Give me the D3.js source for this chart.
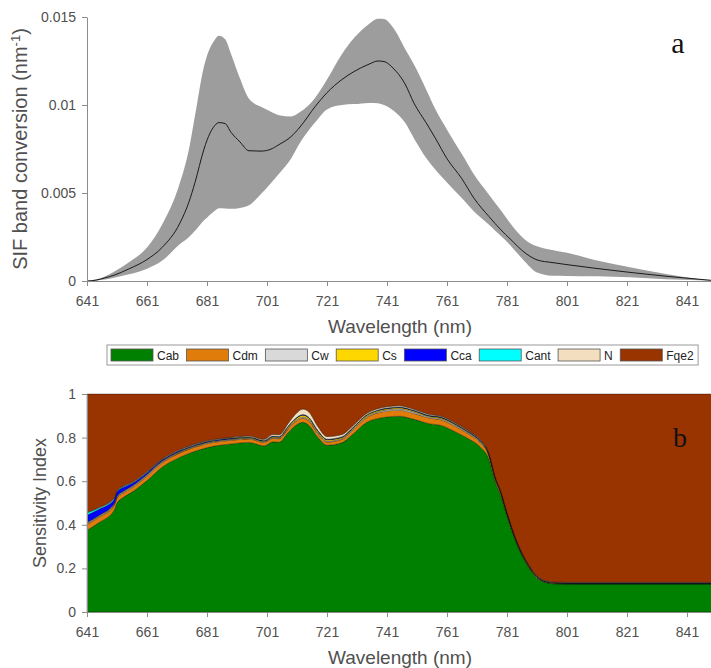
<!DOCTYPE html>
<html>
<head>
<meta charset="utf-8">
<script src="https://cdn.jsdelivr.net/npm/d3@7"></script>
<style>
  html, body { margin: 0; padding: 0; background: #fff; }
  svg { display: block; font-family: "Liberation Sans", Arial, sans-serif; }
</style>
</head>
<body>
<svg id="chart" width="711" height="668"></svg>
<script>
// ---------- Panel a: SIF band conversion (mean and spread) ----------
const sifWavelength = [641, 644, 647, 650, 655, 661, 666, 672, 675, 677, 680, 681, 683, 685, 687, 689, 692, 695, 699, 702, 705, 709, 712, 717, 721, 726, 730, 735, 738, 740, 743, 747, 750, 754, 757, 761, 766, 770, 775, 779, 782, 787, 791, 796, 801, 811, 822, 834, 845, 849];
const sifMean = [0, 0.00005, 0.00018, 0.00033, 0.00069, 0.00122, 0.0019, 0.0033, 0.0045, 0.0056, 0.0075, 0.0080, 0.0087, 0.0090, 0.00895, 0.00845, 0.0079, 0.0074, 0.00738, 0.00747, 0.00775, 0.0082, 0.00875, 0.0099, 0.0107, 0.01145, 0.0119, 0.01232, 0.0125, 0.01247, 0.0121, 0.0112, 0.0101, 0.0090, 0.00815, 0.00695, 0.0058, 0.0047, 0.00366, 0.0029, 0.0024, 0.0016, 0.0012, 0.00105, 0.00093, 0.00071, 0.00049, 0.00027, 0.0001, 0.00004];
const sifUpper = [0, 0.00008, 0.00025, 0.00052, 0.00107, 0.0019, 0.0032, 0.0056, 0.0075, 0.0094, 0.0122, 0.0128, 0.01355, 0.01394, 0.01375, 0.0129, 0.0115, 0.01035, 0.0099, 0.00965, 0.00942, 0.00935, 0.0096, 0.0104, 0.01145, 0.0129, 0.0138, 0.0146, 0.0149, 0.01488, 0.0144, 0.0132, 0.0123, 0.0109, 0.0098, 0.0086, 0.0072, 0.00605, 0.0049, 0.0040, 0.0033, 0.00235, 0.00197, 0.00176, 0.0016, 0.00116, 0.00078, 0.0004, 0.00012, 0.00004];
const sifLower = [0, 0.00002, 0.00008, 0.00018, 0.00038, 0.0007, 0.00115, 0.0021, 0.0025, 0.00285, 0.00345, 0.0036, 0.0039, 0.00413, 0.00412, 0.0041, 0.00415, 0.0043, 0.00495, 0.0055, 0.0061, 0.00695, 0.00785, 0.0090, 0.00975, 0.0100, 0.01005, 0.01012, 0.0101, 0.0100, 0.0097, 0.0090, 0.0081, 0.0070, 0.00635, 0.0056, 0.0047, 0.00395, 0.0032, 0.00255, 0.00205, 0.0011, 0.00048, 0.0003, 0.00029, 0.00027, 0.00021, 0.0001, 0.00004, 0.00002];
const sifTicks = [0, 0.005, 0.01, 0.015];
const sifTickLabels = ["0", "0.005", "0.01", "0.015"];

// ---------- Panel b: sensitivity index per parameter (stacked) ----------
const siWavelength = [641, 645, 650, 651, 653, 656, 661, 666, 672, 678, 683, 689, 695, 700, 703, 705, 708, 710, 713, 715, 718, 721, 726, 729, 734, 738, 745, 750, 755, 759, 764, 768, 772, 775, 777, 779, 781, 784, 788, 791, 794, 797, 801, 821, 850];
const siCab  = [0.375, 0.410, 0.466, 0.500, 0.525, 0.550, 0.603, 0.664, 0.710, 0.742, 0.760, 0.771, 0.778, 0.762, 0.781, 0.779, 0.822, 0.850, 0.870, 0.856, 0.800, 0.765, 0.777, 0.808, 0.868, 0.888, 0.898, 0.884, 0.864, 0.856, 0.825, 0.796, 0.758, 0.700, 0.600, 0.530, 0.440, 0.320, 0.210, 0.155, 0.135, 0.129, 0.128, 0.128, 0.128];
const siCdm  = [0.027, 0.025, 0.022, 0.022, 0.020, 0.020, 0.020, 0.020, 0.020, 0.019, 0.018, 0.017, 0.016, 0.016, 0.016, 0.016, 0.017, 0.018, 0.020, 0.020, 0.017, 0.015, 0.015, 0.018, 0.022, 0.026, 0.028, 0.027, 0.026, 0.026, 0.025, 0.022, 0.020, 0.016, 0.012, 0.010, 0.008, 0.006, 0.004, 0.003, 0.002, 0.002, 0.002, 0.002, 0.002];
const siCw   = [0.004, 0.004, 0.004, 0.004, 0.004, 0.004, 0.004, 0.004, 0.003, 0.003, 0.003, 0.003, 0.003, 0.003, 0.003, 0.003, 0.004, 0.004, 0.005, 0.005, 0.005, 0.004, 0.004, 0.004, 0.005, 0.005, 0.006, 0.006, 0.005, 0.005, 0.005, 0.004, 0.004, 0.003, 0.003, 0.003, 0.003, 0.002, 0.002, 0.002, 0.001, 0.001, 0.001, 0.001, 0.001];
const siCs   = [0.004, 0.004, 0.004, 0.004, 0.004, 0.004, 0.004, 0.003, 0.003, 0.003, 0.003, 0.003, 0.003, 0.003, 0.004, 0.004, 0.006, 0.007, 0.008, 0.008, 0.007, 0.006, 0.005, 0.005, 0.005, 0.005, 0.005, 0.005, 0.004, 0.004, 0.004, 0.004, 0.003, 0.003, 0.003, 0.003, 0.002, 0.002, 0.002, 0.002, 0.001, 0.001, 0.001, 0.001, 0.001];
const siCca  = [0.035, 0.028, 0.020, 0.020, 0.018, 0.012, 0.008, 0.006, 0.005, 0.004, 0.003, 0.003, 0.002, 0.002, 0.002, 0.002, 0.002, 0.002, 0.002, 0.002, 0.002, 0.002, 0.002, 0.002, 0.002, 0.002, 0.002, 0.002, 0.002, 0.002, 0.002, 0.002, 0.002, 0.002, 0.002, 0.002, 0.002, 0.002, 0.001, 0.001, 0.001, 0.001, 0.001, 0.001, 0.001];
const siCant = [0.010, 0.006, 0.004, 0.003, 0.003, 0.002, 0.002, 0.001, 0.001, 0.001, 0.001, 0.001, 0.001, 0.001, 0.001, 0.001, 0.001, 0.001, 0.001, 0.001, 0.001, 0.001, 0.001, 0.001, 0.001, 0.001, 0.001, 0.001, 0.001, 0.001, 0.001, 0.001, 0.001, 0.001, 0.001, 0.001, 0.001, 0.001, 0.001, 0.001, 0.001, 0.001, 0.001, 0.001, 0.001];
const siN    = [0.003, 0.003, 0.003, 0.003, 0.003, 0.003, 0.003, 0.003, 0.003, 0.003, 0.003, 0.003, 0.004, 0.005, 0.008, 0.008, 0.012, 0.018, 0.025, 0.025, 0.018, 0.012, 0.010, 0.008, 0.006, 0.006, 0.006, 0.005, 0.005, 0.004, 0.004, 0.004, 0.003, 0.003, 0.003, 0.003, 0.002, 0.002, 0.002, 0.002, 0.002, 0.002, 0.002, 0.002, 0.002];
const siFqe2 = [0.542, 0.520, 0.477, 0.444, 0.423, 0.405, 0.356, 0.299, 0.255, 0.225, 0.209, 0.199, 0.193, 0.208, 0.185, 0.187, 0.136, 0.100, 0.069, 0.083, 0.150, 0.195, 0.186, 0.154, 0.091, 0.067, 0.054, 0.070, 0.093, 0.102, 0.134, 0.167, 0.209, 0.272, 0.376, 0.448, 0.542, 0.665, 0.778, 0.834, 0.857, 0.863, 0.864, 0.864, 0.864];
const siTicks = [0, 0.2, 0.4, 0.6, 0.8, 1];
const siTickLabels = ["0", "0.2", "0.4", "0.6", "0.8", "1"];

const paramNames  = ["Cab", "Cdm", "Cw", "Cs", "Cca", "Cant", "N", "Fqe2"];
const paramColors = ["#008000", "#e07c0a", "#d9d9d9", "#ffd700", "#0000ff", "#00ffff", "#f3dfbf", "#993300"];
const paramSeries = [siCab, siCdm, siCw, siCs, siCca, siCant, siN, siFqe2];

const xTicks = [641, 661, 681, 701, 721, 741, 761, 781, 801, 821, 841];

// ---------- shared layout ----------
const svg = d3.select("#chart");
const axisColor = "#8c8c8c";
const textColor = "#505050";
const x = d3.scaleLinear().domain([641, 850]).range([87, 714]);

function styleAxis(g) {
  g.selectAll("path.domain").attr("stroke", axisColor).attr("stroke-width", 1);
  g.selectAll(".tick line").attr("stroke", axisColor);
  g.selectAll(".tick text").attr("fill", textColor)
    .attr("font-family", "Liberation Sans, Arial, sans-serif").attr("font-size", 14);
}

// ===== Panel a =====
const yA = d3.scaleLinear().domain([0, 0.015]).range([281, 17]);
const sifRows = sifWavelength.map((w, i) => ({ w, m: sifMean[i], lo: sifLower[i], hi: sifUpper[i] }));

svg.append("path")
  .datum(sifRows)
  .attr("fill", "#9d9d9d")
  .attr("d", d3.area().curve(d3.curveMonotoneX)
    .x(d => x(d.w)).y0(d => yA(d.lo)).y1(d => yA(d.hi)));

svg.append("path")
  .datum(sifRows)
  .attr("fill", "none")
  .attr("stroke", "#1a1a1a")
  .attr("stroke-width", 1)
  .attr("d", d3.line().curve(d3.curveMonotoneX).x(d => x(d.w)).y(d => yA(d.m)));

svg.append("g").attr("transform", "translate(0,281)")
  .call(d3.axisBottom(x).tickValues(xTicks).tickSize(5).tickSizeOuter(0).tickPadding(10).tickFormat(d3.format("d")))
  .call(styleAxis);

svg.append("g").attr("transform", "translate(87,0)")
  .call(d3.axisLeft(yA).tickValues(sifTicks).tickSize(5).tickSizeOuter(0).tickPadding(6)
    .tickFormat((d, i) => sifTickLabels[i]))
  .call(styleAxis);

svg.append("text")
  .attr("x", 400).attr("y", 333).attr("text-anchor", "middle")
  .attr("fill", textColor).attr("font-size", 19)
  .text("Wavelength (nm)");

const yLabA = svg.append("text")
  .attr("transform", "translate(27,149) rotate(-90)")
  .attr("text-anchor", "middle").attr("fill", textColor).attr("font-size", 20);
yLabA.append("tspan").text("SIF band conversion (nm");
yLabA.append("tspan").attr("baseline-shift", "super").attr("font-size", 13).text("-1");
yLabA.append("tspan").text(")");

svg.append("text")
  .attr("x", 678).attr("y", 53).attr("text-anchor", "middle")
  .attr("font-family", "Liberation Serif, Times New Roman, serif")
  .attr("font-size", 30).attr("fill", "#111").text("a");

// ===== Legend =====
const legend = svg.append("g");
const legBox = legend.append("rect")
  .attr("x", 107).attr("y", 345).attr("width", 591).attr("height", 20)
  .attr("fill", "#fff").attr("stroke", "#9a9a9a").attr("stroke-width", 1);
let lx = 111;
paramNames.forEach((name, i) => {
  legend.append("rect")
    .attr("x", lx).attr("y", 349).attr("width", 42).attr("height", 12)
    .attr("fill", paramColors[i]).attr("stroke", "#555").attr("stroke-width", 0.8);
  const t = legend.append("text")
    .attr("x", lx + 46).attr("y", 359.5)
    .attr("font-size", 12).attr("fill", "#222").text(name);
  lx += 46 + t.node().getComputedTextLength() + 7.5;
});
legBox.attr("width", lx - 107 - 3);

// ===== Panel b =====
const yB = d3.scaleLinear().domain([0, 1]).range([612, 394]);
const siRows = siWavelength.map((w, i) => {
  const r = { w };
  paramNames.forEach((n, k) => { r[n] = paramSeries[k][i]; });
  return r;
});
const stacked = d3.stack().keys(paramNames).offset(d3.stackOffsetExpand)(siRows);

svg.append("g")
  .selectAll("path")
  .data(stacked)
  .join("path")
  .attr("fill", (d, i) => paramColors[i])
  .attr("stroke", "rgba(0,0,0,0.55)")
  .attr("stroke-width", 0.6)
  .attr("d", d3.area().curve(d3.curveMonotoneX)
    .x(d => x(d.data.w)).y0(d => yB(d[0])).y1(d => yB(d[1])));

svg.append("g").attr("transform", "translate(0,612)")
  .call(d3.axisBottom(x).tickValues(xTicks).tickSize(5).tickSizeOuter(0).tickPadding(10).tickFormat(d3.format("d")))
  .call(styleAxis);

svg.append("g").attr("transform", "translate(87,0)")
  .call(d3.axisLeft(yB).tickValues(siTicks).tickSize(5).tickSizeOuter(0).tickPadding(6)
    .tickFormat((d, i) => siTickLabels[i]))
  .call(styleAxis);

svg.append("text")
  .attr("x", 400).attr("y", 664).attr("text-anchor", "middle")
  .attr("fill", textColor).attr("font-size", 19)
  .text("Wavelength (nm)");

svg.append("text")
  .attr("transform", "translate(46,503) rotate(-90)")
  .attr("text-anchor", "middle").attr("fill", textColor).attr("font-size", 18)
  .text("Sensitivity Index");

svg.append("text")
  .attr("x", 680).attr("y", 447).attr("text-anchor", "middle")
  .attr("font-family", "Liberation Serif, Times New Roman, serif")
  .attr("font-size", 28).attr("fill", "#111").text("b");
</script>
</body>
</html>
